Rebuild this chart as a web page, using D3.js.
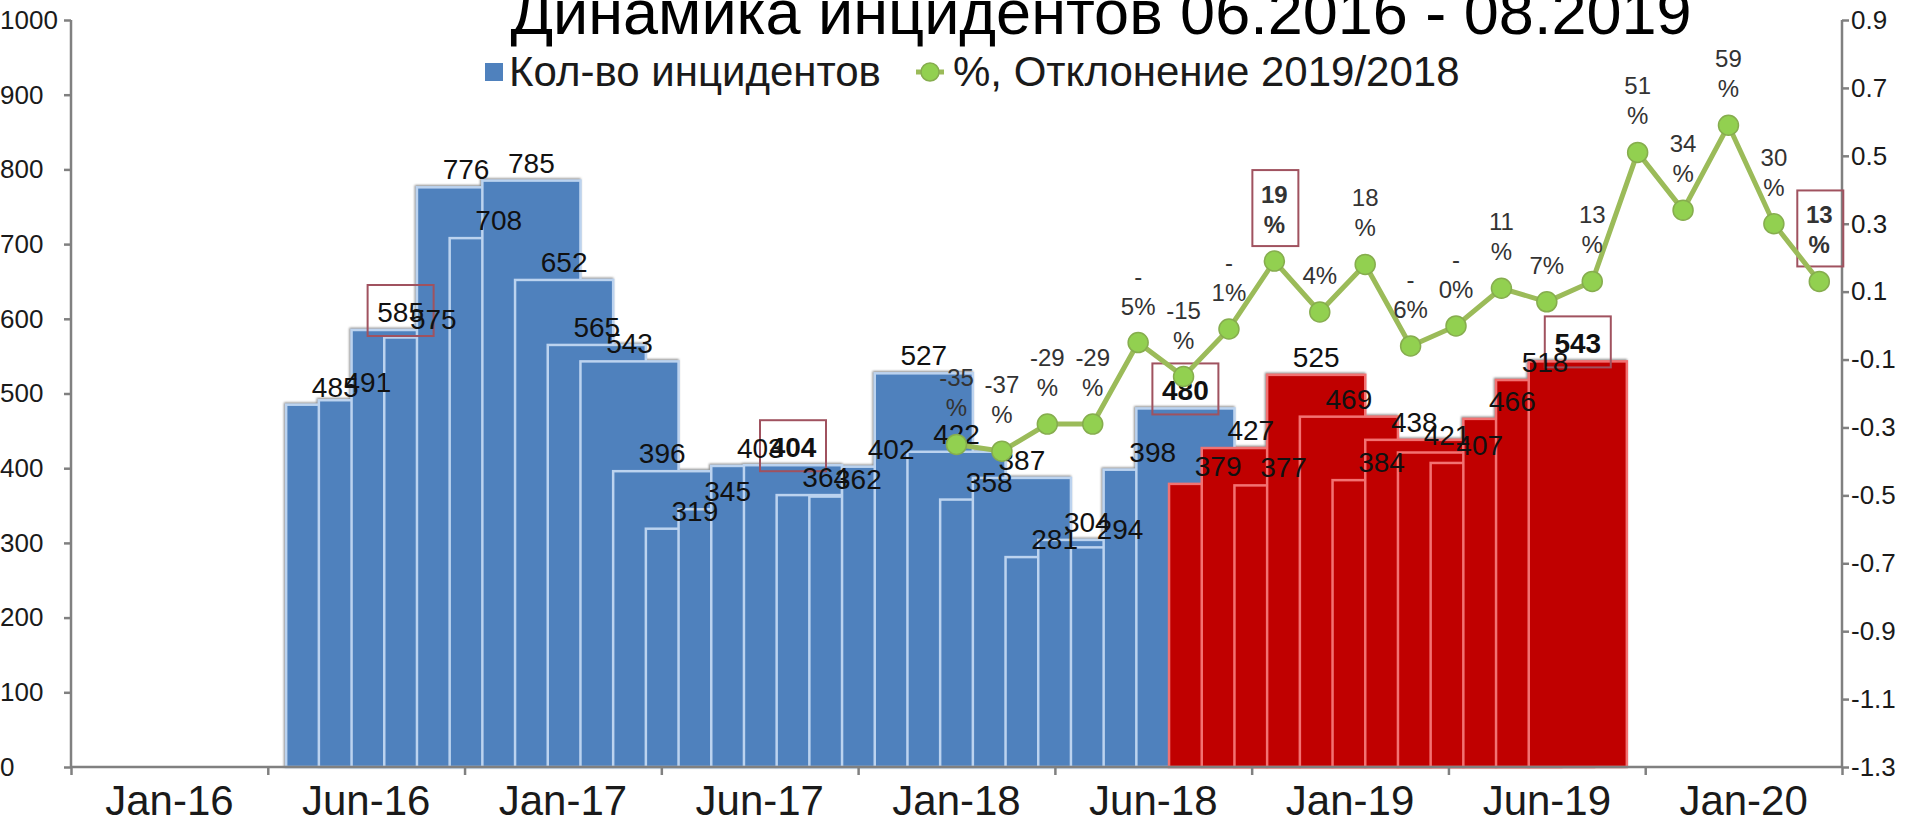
<!DOCTYPE html>
<html>
<head>
<meta charset="utf-8">
<script src="https://cdn.jsdelivr.net/npm/d3@7"></script>
<style>
  body { margin: 0; background: #fff; }
  svg { display: block; font-family: "Liberation Sans", Arial, sans-serif; }
  .axis path, .axis line { stroke: #808080; stroke-width: 2.5; }
  .axis text { fill: #1a1a1a; }
</style>
</head>
<body>
<svg id="chart" width="1907" height="824"></svg>
<script>
// DATA
const xLabels = ["Jan-16", "Jun-16", "Jan-17", "Jun-17", "Jan-18", "Jun-18", "Jan-19", "Jun-19", "Jan-20"];
// monthly incidents, Jun-16 .. Aug-19
const incidents = [485, 491, 585, 575, 776, 708, 785, 652, 565, 543, 396, 319,
                   345, 403, 404, 364, 362, 402, 527, 422, 358, 387, 281, 304,
                   294, 398, 480, 379, 427, 377, 525, 469, 384, 438, 421, 407,
                   466, 518, 543];
// deviation 2019/2018, Jan-18 .. Aug-19
const deviation = [-0.35, -0.37, -0.29, -0.29, -0.05, -0.15, -0.01, 0.19, 0.04, 0.18,
                   -0.06, -0.001, 0.11, 0.07, 0.13, 0.51, 0.34, 0.59, 0.30, 0.13];
const deviationLabels = ["-35%", "-37%", "-29%", "-29%", "-5%", "-15%", "-1%", "19%", "4%", "18%",
                         "-6%", "-0%", "11%", "7%", "13%", "51%", "34%", "59%", "30%", "13%"];
const leftTicks = [0, 100, 200, 300, 400, 500, 600, 700, 800, 900, 1000];
const rightTicks = [-1.3, -1.1, -0.9, -0.7, -0.5, -0.3, -0.1, 0.1, 0.3, 0.5, 0.7, 0.9];
const boldMonths = ["Aug-17", "Aug-18", "Aug-19"];

const titleText = "Динамика инцидентов 06.2016 - 08.2019";
const seriesNames = ["Кол-во инцидентов", "%, Отклонение 2019/2018"];

// SETUP
const margin = { top: 20, right: 65, bottom: 57, left: 71 },
      width = 1907 - margin.left - margin.right,
      height = 824 - margin.top - margin.bottom;

const blue = "#4f81bd", red = "#c00000", green = "#9bbb59", boxColor = "#a0525f";

const root = d3.select("#chart");

// drop shadow around the bar block
const defs = root.append("defs");
defs.append("filter").attr("id", "barShadow")
    .attr("x", "-5%").attr("y", "-5%").attr("width", "110%").attr("height", "110%")
  .append("feDropShadow")
    .attr("dx", -1).attr("dy", -1).attr("stdDeviation", 1.2)
    .attr("flood-color", "#8a8a8a");

const svg = root.append("g")
    .attr("transform", `translate(${margin.left},${margin.top})`);

// months as categories
const fmtMonth = d3.timeFormat("%b-%y");
const months = d3.timeMonths(new Date(2016, 5, 1), new Date(2019, 8, 1)).map(fmtMonth);
const redFrom = months.indexOf("Sep-18");
const devMonths = months.slice(months.indexOf("Jan-18"));

const barData = incidents.map((v, i) => ({ i, month: months[i], value: v }));
const lineData = deviation.map((v, i) => ({ month: devMonths[i], value: v, label: deviationLabels[i] }));

// SCALES
const yLeft = d3.scaleLinear().domain([0, 1000]).range([height, 0]);
const yRight = d3.scaleLinear().domain([-1.3, 0.9]).range([height, 0]);

// bars sit on a month scale, each bar 3 months wide, drawn over each other
const barSpan = 3;
const xBar = d3.scaleLinear().domain([-6.58, 47.58]).range([0, width]);

// line sits on a category scale of the 39 months
const xCat = d3.scaleBand().domain(months).range([0, width]);

// axis label slots
const xTick = d3.scaleLinear().domain([0, xLabels.length]).range([0, width]);
const xLab = d3.scaleBand().domain(xLabels).range([0, width]);

// BARS
const barG = svg.append("g").attr("filter", "url(#barShadow)");
barG.selectAll("rect")
    .data(barData)
    .join("rect")
    .attr("x", d => xBar(d.i))
    .attr("y", d => yLeft(d.value))
    .attr("width", d => xBar(d.i + barSpan) - xBar(d.i))
    .attr("height", d => height - yLeft(d.value))
    .attr("fill", d => d.i >= redFrom ? red : blue)
    .attr("stroke", d => d.i >= redFrom ? "#f27272" : "#bcd3ef")
    .attr("stroke-width", 2.5);

// bar labels
const isAug = m => m.startsWith("Aug");
const barLab = svg.append("g");
barLab.selectAll("rect")
    .data(barData.filter(d => isAug(d.month)))
    .join("rect")
    .attr("x", d => xBar(d.i + barSpan / 2) - 33)
    .attr("y", d => yLeft(d.value) - 45)
    .attr("width", 66)
    .attr("height", 51)
    .attr("fill", "none")
    .attr("stroke", boxColor)
    .attr("stroke-width", 2);

barLab.selectAll("text")
    .data(barData)
    .join("text")
    .attr("x", d => xBar(d.i + barSpan / 2))
    .attr("y", d => yLeft(d.value) - 8)
    .attr("text-anchor", "middle")
    .attr("font-size", 28)
    .attr("font-weight", d => boldMonths.includes(d.month) ? "bold" : "normal")
    .attr("fill", "#111")
    .text(d => d.value);

// AXES
// x axis: tick marks between label slots
svg.append("g")
    .attr("class", "axis")
    .attr("transform", `translate(0,${height})`)
    .call(d3.axisBottom(xTick).tickValues(d3.range(0, xLabels.length + 1)).tickSize(8).tickFormat(""))
    .call(g => g.select(".domain").attr("d", `M0,0H${width}`));

svg.append("g")
    .attr("class", "axis")
    .attr("transform", `translate(0,${height})`)
    .call(d3.axisBottom(xLab).tickSize(0).tickPadding(18))
    .call(g => g.select(".domain").remove())
    .selectAll("text")
    .attr("font-size", 42);

// left axis
svg.append("g")
    .attr("class", "axis")
    .call(d3.axisLeft(yLeft).tickValues(leftTicks).tickSize(7).tickFormat(d3.format("d")))
    .call(g => g.select(".domain").attr("d", `M0,0V${height}`))
    .selectAll("text")
    .attr("font-size", 26)
    .attr("text-anchor", "start")
    .attr("x", -margin.left);

// right axis
svg.append("g")
    .attr("class", "axis")
    .attr("transform", `translate(${width},0)`)
    .call(d3.axisRight(yRight).tickValues(rightTicks).tickSize(7).tickPadding(2)
        .tickFormat(d => d.toFixed(1)))
    .call(g => g.select(".domain").attr("d", `M0,0V${height}`))
    .selectAll("text")
    .attr("font-size", 26);

// LINE
const cx = d => xCat(d.month) + xCat.bandwidth() / 2;
const splitLabel = s => {
    const digits = s.replace("-", "").replace("%", "");
    if (digits.length > 1) return [s.replace("%", ""), "%"];
    if (s.startsWith("-")) return ["-", digits + "%"];
    return [s];
};

// boxes behind the line
svg.append("g").selectAll("rect")
    .data(lineData.filter(d => isAug(d.month)))
    .join("rect")
    .attr("x", d => cx(d) - 22)
    .attr("y", d => yRight(d.value) - 28 - 30 * (splitLabel(d.label).length - 1) - 33)
    .attr("width", 46)
    .attr("height", d => 46 + 30 * (splitLabel(d.label).length - 1))
    .attr("fill", "none")
    .attr("stroke", boxColor)
    .attr("stroke-width", 2);

const lineGen = d3.line()
    .x(cx)
    .y(d => yRight(d.value));

svg.append("path")
    .datum(lineData)
    .attr("fill", "none")
    .attr("stroke", green)
    .attr("stroke-width", 5)
    .attr("d", lineGen);

svg.append("g").selectAll("circle")
    .data(lineData)
    .join("circle")
    .attr("cx", cx)
    .attr("cy", d => yRight(d.value))
    .attr("r", 10)
    .attr("fill", "#92d050")
    .attr("stroke", "#86ad4e")
    .attr("stroke-width", 1.5);

const lineLab = svg.append("g").selectAll("text")
    .data(lineData)
    .join("text")
    .attr("text-anchor", "middle")
    .attr("font-size", 24)
    .attr("font-weight", d => isAug(d.month) ? "bold" : "normal")
    .attr("fill", "#333");

lineLab.each(function(d) {
    const lines = splitLabel(d.label);
    const last = yRight(d.value) - 28;
    d3.select(this).selectAll("tspan")
        .data(lines)
        .join("tspan")
        .attr("x", cx(d))
        .attr("y", (t, k) => last - 30 * (lines.length - 1 - k))
        .text(t => t);
});

// TITLE
root.append("text")
    .attr("x", 1101)
    .attr("y", 34)
    .attr("text-anchor", "middle")
    .attr("font-size", 63)
    .attr("fill", "#000")
    .text(titleText);

// LEGEND
const legend = root.append("g").attr("font-size", 42).attr("fill", "#1a1a1a");
legend.append("rect")
    .attr("x", 485).attr("y", 63).attr("width", 18).attr("height", 18)
    .attr("fill", blue);
legend.append("text").attr("x", 509).attr("y", 86).text(seriesNames[0]);
legend.append("line")
    .attr("x1", 916).attr("x2", 944).attr("y1", 72).attr("y2", 72)
    .attr("stroke", green).attr("stroke-width", 5);
legend.append("circle")
    .attr("cx", 930).attr("cy", 72).attr("r", 9)
    .attr("fill", "#92d050").attr("stroke", "#86ad4e").attr("stroke-width", 1.5);
legend.append("text").attr("x", 953).attr("y", 86).text(seriesNames[1]);
</script>
</body>
</html>
